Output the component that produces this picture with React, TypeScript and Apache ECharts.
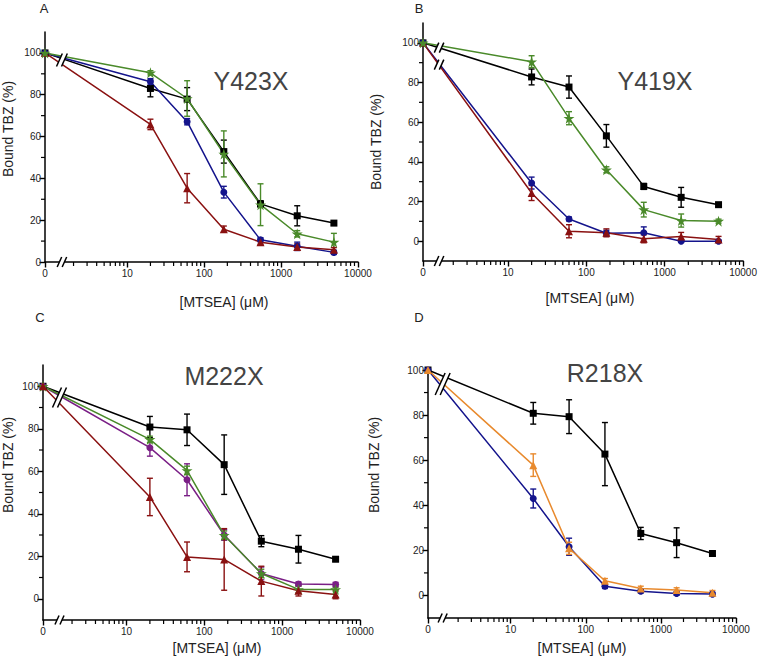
import React, { useEffect, useRef } from "react";
import * as echarts from "echarts";

// Concentrations of MTSEA (µM); 0 is plotted left of the axis break
const CONC = [0, 20, 60, 180, 540, 1620, 4860];
const X_TICKS = [0, 10, 100, 1000, 10000];
const Y_TICKS = [0, 20, 40, 60, 80, 100];
const Y_MINOR = [10, 30, 50, 70, 90];

// Panel A – Y423X
const A_BLACK = [100, 83.0, 77.9, 52.8, 27.8, 22.1, 18.6];
const A_BLACK_ERR = [0, 4, 5.5, 5.5, 1.5, 4.8, 1];
const A_BLUE = [100, 86.2, 67.1, 33.4, 10.6, 7.5, 4.6];
const A_BLUE_ERR = [0, 1.5, 1.5, 2.8, 1, 2, 1];
const A_RED = [100, 65.8, 35.3, 15.7, 9.5, 7.2, 5.9];
const A_RED_ERR = [0, 2.5, 7, 1.5, 1, 1.5, 1];
const A_GREEN = [100, 90.5, 78.2, 51.7, 27.4, 13.5, 9.5];
const A_GREEN_ERR = [0, 1, 8.5, 11, 10, 1.5, 4.2];

// Panel B – Y419X
const B_BLACK = [100, 82.8, 77.7, 53.1, 27.6, 22.1, 18.4];
const B_BLACK_ERR = [0, 4, 5.6, 5.7, 1.5, 5, 1];
const B_BLUE = [100, 29.3, 11.2, 4.0, 4.2, 0.0, 0.0];
const B_BLUE_ERR = [0, 3, 1, 1.5, 3, 0.5, 0.5];
const B_RED = [100, 24.3, 5.0, 4.2, 1.2, 2.4, 0.9];
const B_RED_ERR = [0, 3.8, 3.3, 2, 2, 2, 1.5];
const B_GREEN = [100, 90.5, 62.0, 36.0, 15.9, 10.4, 10.1];
const B_GREEN_ERR = [0, 3, 3.3, 1.5, 3.7, 3.3, 1];

// Panel C – M222X
const C_BLACK = [100, 80.8, 79.5, 63.1, 27.1, 23.3, 18.6];
const C_BLACK_ERR = [0, 5, 7.4, 14, 2.6, 6.5, 1];
const C_PURPLE = [100, 71.1, 56.0, 30.0, 11.9, 6.9, 6.7];
const C_PURPLE_ERR = [0, 4, 7.5, 2.5, 3, 1, 1];
const C_GREEN = [100, 75.0, 60.4, 29.9, 11.9, 4.4, 4.4];
const C_GREEN_ERR = [0, 1.5, 2, 2, 2, 1.5, 1];
const C_RED = [100, 47.9, 19.7, 18.5, 8.3, 3.8, 2.0];
const C_RED_ERR = [0, 8.8, 7, 14.5, 7, 2.5, 2];

// Panel D – R218X
const D_BLACK = [100, 80.8, 79.3, 62.7, 27.5, 23.4, 18.6];
const D_BLACK_ERR = [0, 4.8, 7.5, 14, 2.7, 6.6, 1];
const D_BLUE = [100, 43.0, 21.6, 4.1, 1.9, 0.9, 0.6];
const D_BLUE_ERR = [0, 4.2, 3.8, 1, 0.8, 0.8, 0.8];
const D_ORANGE = [100, 57.8, 20.9, 6.5, 3.1, 2.4, 1.2];
const D_ORANGE_ERR = [0, 5, 2.7, 1, 1, 1, 1];

const BLACK = "#000000";
const BLUE = "#14148c";
const RED = "#8a1111";
const GREEN = "#4a8a2a";
const PURPLE = "#7a1f86";
const ORANGE = "#e88a2e";

const STAR =
  "path://M50,0 L61,35 L98,35 L68,57 L79,91 L50,70 L21,91 L32,57 L2,35 L39,35 Z";

type S = { color: string; symbol: string; size: number; values: number[]; errs: number[] };

const PANELS = [
  {
    letter: "A", letterPos: [44, 8], name: "Y423X", namePos: [251, 81],
    xTitlePos: [224, 302], yTitlePos: [8, 129],
    grid: { left: 45, top: 32, width: 313, height: 230 },
    yMin: 0, yMax: 110, zeroP: -0.07, breakP: 0.15,
    lineBreaks: [[96.6, 6.5]], axisBreakH: 5,
    series: [
      { color: BLACK, symbol: "rect", size: 7, values: A_BLACK, errs: A_BLACK_ERR },
      { color: BLUE, symbol: "circle", size: 7, values: A_BLUE, errs: A_BLUE_ERR },
      { color: RED, symbol: "triangle", size: 8, values: A_RED, errs: A_RED_ERR },
      { color: GREEN, symbol: STAR, size: 11, values: A_GREEN, errs: A_GREEN_ERR },
    ] as S[],
  },
  {
    letter: "B", letterPos: [419, 8], name: "Y419X", namePos: [655, 81],
    xTitlePos: [590, 298], yTitlePos: [376, 142],
    grid: { left: 423, top: 23, width: 322, height: 238 },
    yMin: -10, yMax: 110, zeroP: -0.085, breakP: 0.12,
    lineBreaks: [[97.6, 5], [89.0, 5]], axisBreakH: 5,
    series: [
      { color: BLACK, symbol: "rect", size: 7, values: B_BLACK, errs: B_BLACK_ERR },
      { color: BLUE, symbol: "circle", size: 7, values: B_BLUE, errs: B_BLUE_ERR },
      { color: RED, symbol: "triangle", size: 8, values: B_RED, errs: B_RED_ERR },
      { color: GREEN, symbol: STAR, size: 11, values: B_GREEN, errs: B_GREEN_ERR },
    ] as S[],
  },
  {
    letter: "C", letterPos: [40, 317], name: "M222X", namePos: [224, 376],
    xTitlePos: [217, 648], yTitlePos: [8, 465],
    grid: { left: 43, top: 365, width: 317, height: 255 },
    yMin: -10, yMax: 110, zeroP: -0.072, breakP: 0.14,
    lineBreaks: [[94.7, 10]], axisBreakH: 4.5,
    series: [
      { color: BLACK, symbol: "rect", size: 7, values: C_BLACK, errs: C_BLACK_ERR },
      { color: PURPLE, symbol: "circle", size: 7, values: C_PURPLE, errs: C_PURPLE_ERR },
      { color: GREEN, symbol: STAR, size: 11, values: C_GREEN, errs: C_GREEN_ERR },
      { color: RED, symbol: "triangle", size: 8, values: C_RED, errs: C_RED_ERR },
    ] as S[],
  },
  {
    letter: "D", letterPos: [419, 317], name: "R218X", namePos: [605, 373],
    xTitlePos: [582, 648], yTitlePos: [374, 465],
    grid: { left: 428, top: 370, width: 308, height: 248 },
    yMin: -10, yMax: 100, zeroP: -0.1, breakP: 0.095,
    lineBreaks: [[93.8, 11]], axisBreakH: 4.5,
    series: [
      { color: BLACK, symbol: "rect", size: 7, values: D_BLACK, errs: D_BLACK_ERR },
      { color: BLUE, symbol: "circle", size: 7, values: D_BLUE, errs: D_BLUE_ERR },
      { color: ORANGE, symbol: "triangle", size: 8, values: D_ORANGE, errs: D_ORANGE_ERR },
    ] as S[],
  },
];

const FONT = "Liberation Sans, Arial, sans-serif";

function buildOption() {
  const grids: any[] = [];
  const xAxes: any[] = [];
  const yAxes: any[] = [];
  const series: any[] = [];
  const graphics: any[] = [];

  PANELS.forEach((pn, i) => {
    const toP = (c: number) => (c === 0 ? pn.zeroP : Math.log10(c));
    grids.push({ ...pn.grid, containLabel: false });
    const majorX = X_TICKS.map(toP);
    const minorX: number[] = [];
    for (let d = 0; d < 4; d++)
      for (let k = 2; k <= 9; k++) minorX.push(Math.log10(k * Math.pow(10, d)));

    xAxes.push({
      type: "value", gridIndex: i, min: pn.zeroP, max: 4, position: "bottom",
      splitLine: { show: false },
      axisLine: { show: true, onZero: false, lineStyle: { color: "#000", width: 1.5 } },
      axisTick: { show: true, length: 5.5, lineStyle: { color: "#000", width: 1.4 }, customValues: majorX },
      axisLabel: {
        show: true, customValues: majorX, fontSize: 10, color: "#222", fontFamily: FONT, margin: 6,
        formatter: (v: number) => (v < 0.5 ? "0" : String(Math.round(Math.pow(10, v)))),
      },
    });
    yAxes.push({
      type: "value", gridIndex: i, min: pn.yMin, max: pn.yMax, position: "left",
      splitLine: { show: false },
      axisLine: { show: true, onZero: false, lineStyle: { color: "#000", width: 1.5 } },
      axisTick: { show: true, length: 5.5, lineStyle: { color: "#000", width: 1.4 }, customValues: Y_TICKS },
      axisLabel: { show: true, customValues: Y_TICKS, fontSize: 10, color: "#222", fontFamily: FONT, margin: 4 },
    });
    const xi = i;
    const yi = i;

    // minor ticks (log decades on x, odd tens on y), placed through the axes' scales
    series.push({
      type: "custom", xAxisIndex: xi, yAxisIndex: yi, silent: true, z: 7, clip: false,
      encode: { x: 0, y: 1 },
      data: [
        ...minorX.map((p) => [p, pn.yMin, 0]),
        ...Y_MINOR.filter((v) => v <= pn.yMax).map((v) => [pn.zeroP, v, 1]),
      ],
      renderItem: (params: any, api: any) => {
        const c = api.coord([api.value(0), api.value(1)]);
        const vertical = api.value(2) === 0;
        return {
          type: "line",
          shape: vertical
            ? { x1: c[0], y1: c[1], x2: c[0], y2: c[1] + 4 }
            : { x1: c[0], y1: c[1], x2: c[0] - 4, y2: c[1] },
          style: { stroke: "#000", lineWidth: 1.2 },
        };
      },
    });

    pn.series.forEach((s) => {
      series.push({
        type: "line", xAxisIndex: xi, yAxisIndex: yi,
        data: CONC.map((c, j) => [toP(c), s.values[j]]),
        symbol: s.symbol, symbolSize: s.size, showSymbol: true,
        lineStyle: { color: s.color, width: 1.5 },
        itemStyle: { color: s.color },
        z: 3, silent: true,
      });
      series.push({
        type: "custom", xAxisIndex: xi, yAxisIndex: yi, silent: true, z: 3,
        encode: { x: 0, y: [1, 2] },
        data: CONC.map((c, j) => [toP(c), s.values[j] - s.errs[j], s.values[j] + s.errs[j]]).filter(
          (_, j) => s.errs[j] > 0
        ),
        renderItem: (params: any, api: any) => {
          const x = api.value(0);
          const p1 = api.coord([x, api.value(2)]);
          const p2 = api.coord([x, api.value(1)]);
          const w = 3;
          const st = { stroke: s.color, lineWidth: 1.4 };
          return {
            type: "group",
            children: [
              { type: "line", shape: { x1: p1[0], y1: p1[1], x2: p2[0], y2: p2[1] }, style: st },
              { type: "line", shape: { x1: p1[0] - w, y1: p1[1], x2: p1[0] + w, y2: p1[1] }, style: st },
              { type: "line", shape: { x1: p2[0] - w, y1: p2[1], x2: p2[0] + w, y2: p2[1] }, style: st },
            ],
          };
        },
      });
    });

    // axis-break and line-break marks
    const breaks = [[pn.breakP, pn.yMin, pn.axisBreakH], ...pn.lineBreaks.map((b) => [pn.breakP, b[0], b[1]])];
    series.push({
      type: "custom", xAxisIndex: xi, yAxisIndex: yi, silent: true, z: 8, clip: false,
      encode: { x: 0, y: 1 },
      data: breaks,
      renderItem: (params: any, api: any) => {
        const c = api.coord([api.value(0), api.value(1)]);
        const h = api.value(2);
        const dx = h * 0.45;
        const g = 2.5;
        const cx = c[0], cy = c[1];
        return {
          type: "group",
          children: [
            {
              type: "polygon",
              shape: {
                points: [
                  [cx - g - dx, cy + h], [cx - g + dx, cy - h],
                  [cx + g + dx, cy - h], [cx + g - dx, cy + h],
                ],
              },
              style: { fill: "#fff" },
            },
            { type: "line", shape: { x1: cx - g - dx, y1: cy + h, x2: cx - g + dx, y2: cy - h }, style: { stroke: "#000", lineWidth: 1.5 } },
            { type: "line", shape: { x1: cx + g - dx, y1: cy + h, x2: cx + g + dx, y2: cy - h }, style: { stroke: "#000", lineWidth: 1.5 } },
          ],
        };
      },
    });

    graphics.push(
      { type: "text", x: pn.letterPos[0], y: pn.letterPos[1], style: { text: pn.letter, font: `13px ${FONT}`, fill: "#222", align: "center", verticalAlign: "middle" } },
      { type: "text", x: pn.namePos[0], y: pn.namePos[1], style: { text: pn.name, font: `25px ${FONT}`, fill: "#444", align: "center", verticalAlign: "middle" } },
      { type: "text", x: pn.xTitlePos[0], y: pn.xTitlePos[1], style: { text: "[MTSEA] (μM)", font: `14px ${FONT}`, fill: "#222", align: "center", verticalAlign: "middle" } },
      { type: "text", x: pn.yTitlePos[0], y: pn.yTitlePos[1], rotation: Math.PI / 2, style: { text: "Bound TBZ (%)", font: `14px ${FONT}`, fill: "#222", align: "center", verticalAlign: "middle" } }
    );
  });

  return {
    animation: false,
    backgroundColor: "#fff",
    grid: grids,
    xAxis: xAxes,
    yAxis: yAxes,
    series,
    graphic: graphics,
  };
}

export default function App() {
  const ref = useRef<HTMLDivElement>(null);
  useEffect(() => {
    if (!ref.current) return;
    const chart = echarts.init(ref.current, null, { renderer: "svg" });
    chart.setOption(buildOption() as any);
    return () => chart.dispose();
  }, []);
  return (
    <div
      ref={ref}
      style={{ position: "fixed", left: 0, top: 0, width: 760, height: 657, background: "#fff" }}
    />
  );
}
